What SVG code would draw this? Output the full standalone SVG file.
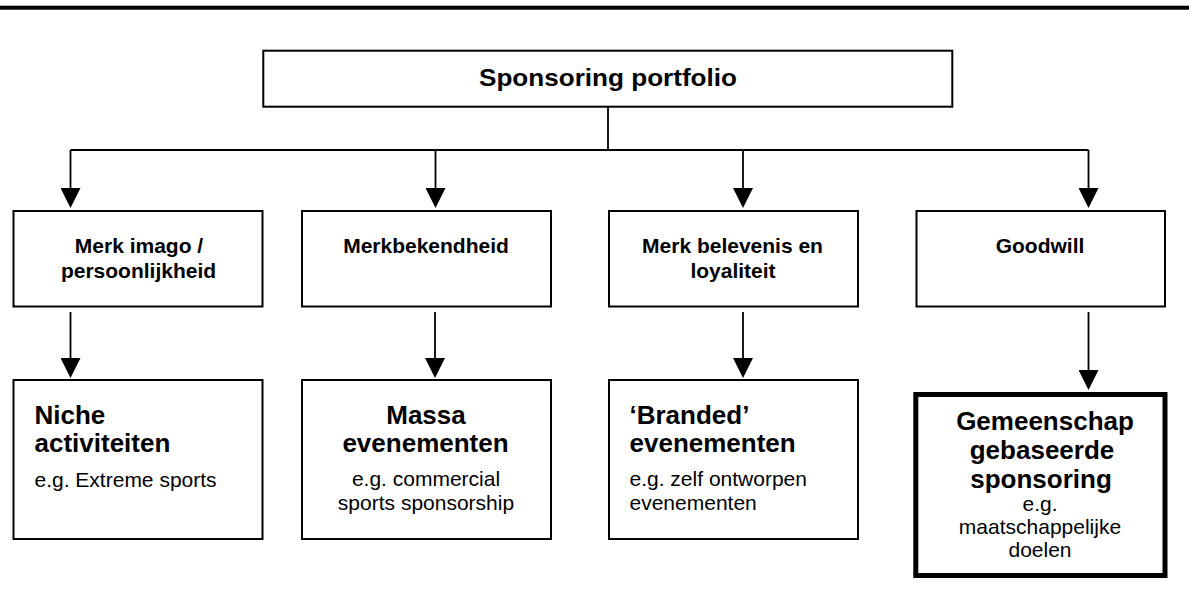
<svg xmlns="http://www.w3.org/2000/svg" width="1189" height="597" viewBox="0 0 1189 597">
<defs>
<marker id="ah" viewBox="0 0 20 20" refX="0" refY="10" markerWidth="20" markerHeight="20" markerUnits="userSpaceOnUse" orient="auto">
<path d="M0,0 L20,10 L0,20 Z" fill="#000"/>
</marker>
<style>
.box{fill:#fff;stroke:#000;stroke-width:2}
.thick{fill:#fff;stroke:#000;stroke-width:5}
.ln{fill:none;stroke:#000;stroke-width:1.8}
.arr{fill:none;stroke:#000;stroke-width:1.8;marker-end:url(#ah)}
text{font-family:"Liberation Sans",Arial,sans-serif;fill:#000}
.t{font-weight:bold;font-size:24px;text-anchor:middle}
.h{font-weight:bold;font-size:21px;text-anchor:middle}
.b{font-weight:bold;font-size:26px}
.r{font-size:21px}
.m{text-anchor:middle}
</style>
</defs>
<rect x="0" y="5.7" width="1189" height="4" fill="#000"/>
<g id="connectors">
<polyline class="ln" points="608,107 608,150"/>
<polyline class="ln" points="70.5,150 1088.5,150"/>
<line class="arr" x1="70.5" y1="150" x2="70.5" y2="188"/>
<line class="arr" x1="435.5" y1="150" x2="435.5" y2="188"/>
<line class="arr" x1="743" y1="150" x2="743" y2="188"/>
<line class="arr" x1="1088.5" y1="150" x2="1088.5" y2="188"/>
<line class="arr" x1="70.5" y1="312" x2="70.5" y2="358"/>
<line class="arr" x1="435" y1="312" x2="435" y2="358"/>
<line class="arr" x1="743" y1="312" x2="743" y2="358"/>
<line class="arr" x1="1088.5" y1="312" x2="1088.5" y2="370"/>
</g>
<g id="n-portfolio">
<rect class="box" x="263.3" y="50.7" width="689" height="56"/>
<text class="t" x="608" y="86" textLength="258" lengthAdjust="spacingAndGlyphs">Sponsoring portfolio</text>
</g>
<g id="n-imago">
<rect class="box" x="13.5" y="211" width="249" height="95.5"/>
<text class="h" x="139" y="253">Merk imago /</text>
<text class="h" x="138.5" y="278">persoonlijkheid</text>
</g>
<g id="n-bekendheid">
<rect class="box" x="302" y="211" width="249" height="95.5"/>
<text class="h" x="426" y="253">Merkbekendheid</text>
</g>
<g id="n-beleving">
<rect class="box" x="609" y="211" width="249" height="95.5"/>
<text class="h" x="732.5" y="253">Merk belevenis en</text>
<text class="h" x="733" y="278">loyaliteit</text>
</g>
<g id="n-goodwill">
<rect class="box" x="916.5" y="211" width="248.5" height="95.5"/>
<text class="h" x="1040" y="253">Goodwill</text>
</g>
<g id="n-niche">
<rect class="box" x="13.5" y="380" width="249" height="159"/>
<text class="b" x="34.5" y="424">Niche</text>
<text class="b" x="34.5" y="452">activiteiten</text>
<text class="r" x="34.5" y="487">e.g. Extreme sports</text>
</g>
<g id="n-massa">
<rect class="box" x="302" y="380" width="249" height="159"/>
<text class="b m" x="426" y="424">Massa</text>
<text class="b m" x="425.5" y="452">evenementen</text>
<text class="r m" x="426" y="486">e.g. commercial</text>
<text class="r m" x="426" y="510">sports sponsorship</text>
</g>
<g id="n-branded">
<rect class="box" x="609" y="380" width="249" height="159"/>
<text class="b" x="629.5" y="424">‘Branded’</text>
<text class="b" x="629.5" y="452">evenementen</text>
<text class="r" x="629.5" y="486">e.g. zelf ontworpen</text>
<text class="r" x="629.5" y="510">evenementen</text>
</g>
<g id="n-gemeenschap">
<rect class="thick" x="915.8" y="394.5" width="249.2" height="181"/>
<text class="b m" x="1045" y="430">Gemeenschap</text>
<text class="b m" x="1042" y="459">gebaseerde</text>
<text class="b m" x="1041" y="488">sponsoring</text>
<text class="r m" x="1040" y="511">e.g.</text>
<text class="r m" x="1040" y="534">maatschappelijke</text>
<text class="r m" x="1040" y="557">doelen</text>
</g>
</svg>
